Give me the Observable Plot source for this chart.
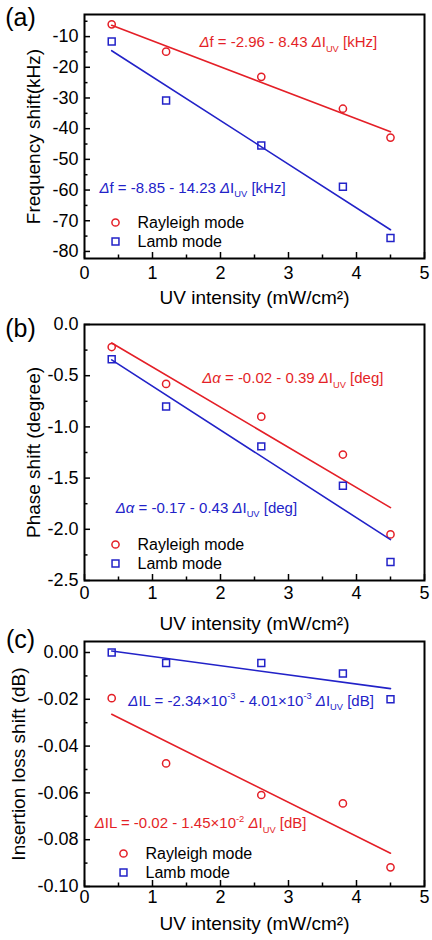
<!DOCTYPE html>
<html>
<head>
<meta charset="utf-8">
<script src="https://cdn.jsdelivr.net/npm/d3@7"></script>
<script src="https://cdn.jsdelivr.net/npm/@observablehq/plot@0.6"></script>
<style>
  body { margin: 0; background: #fff; }
  #chart { width: 432px; }
  #chart svg { display: block; }
</style>
</head>
<body>
<div id="chart"></div>
<script>
// UV intensity steps (mW/cm²)
const uv = [0.4, 1.2, 2.6, 3.8, 4.5];

// (a) frequency shift, kHz
const freqRayleigh = [-6.0, -14.9, -23.1, -33.5, -42.9];
const freqLamb = [-11.6, -30.8, -45.5, -58.9, -75.6];

// (b) phase shift, degree
const phaseRayleigh = [-0.22, -0.58, -0.90, -1.27, -2.05];
const phaseLamb = [-0.34, -0.80, -1.19, -1.575, -2.32];

// (c) insertion loss shift, dB
const ilRayleigh = [-0.0195, -0.0474, -0.0609, -0.0645, -0.0918];
const ilLamb = [0.0, -0.0045, -0.0045, -0.009, -0.020];

const modes = ["Rayleigh mode", "Lamb mode"];

// tick values
const xTicks = [0, 1, 2, 3, 4, 5];
const xMinorTicks = [0.5, 1.5, 2.5, 3.5, 4.5];
const freqTicks = [-10, -20, -30, -40, -50, -60, -70, -80];
const freqMinor = [-5, -15, -25, -35, -45, -55, -65, -75];
const phaseTicks = [0, -0.5, -1.0, -1.5, -2.0, -2.5];
const phaseMinor = [-0.25, -0.75, -1.25, -1.75, -2.25];
const ilTicks = [0, -0.02, -0.04, -0.06, -0.08, -0.10];
const ilMinor = [-0.01, -0.03, -0.05, -0.07, -0.09];

// fitted-line equations (Rayleigh, Lamb)
const freqFitText = ["Δf = -2.96 - 8.43 ΔI_{UV} [kHz]", "Δf = -8.85 - 14.23 ΔI_{UV} [kHz]"];
const phaseFitText = ["Δα = -0.02 - 0.39 ΔI_{UV} [deg]", "Δα = -0.17 - 0.43 ΔI_{UV} [deg]"];
const ilFitText = ["ΔIL = -0.02 - 1.45×10^{-2} ΔI_{UV} [dB]", "ΔIL = -2.34×10^{-3} - 4.01×10^{-3} ΔI_{UV} [dB]"];

const xLabel = "UV intensity (mW/cm²)";

// ---- styling ----
const W = 432, ML = 84, MR = 8;
const FONT = "'Liberation Sans', Arial, Helvetica, sans-serif";
const COLORS = ["#e41f27", "#2222c8"];
const SYMBOLS = ["circle", "square"];
const SVGNS = "http://www.w3.org/2000/svg";

// turn _{..} / ^{..} into sub/superscripts and italicise Greek letters
function enrich(textEl, fs) {
  const src = textEl.textContent;
  if (!/[_^]\{|[Δα]/.test(src)) return;
  textEl.textContent = "";
  let shift = 0;
  const add = (str, opts = {}) => {
    const t = document.createElementNS(SVGNS, "tspan");
    t.textContent = str;
    const target = opts.shift || 0;
    if (target !== shift) t.setAttribute("dy", target - shift);
    shift = target;
    if (opts.size) t.setAttribute("font-size", opts.size);
    if (opts.italic) t.setAttribute("font-style", "italic");
    textEl.appendChild(t);
  };
  const re = /_\{([^}]*)\}|\^\{([^}]*)\}|([Δα])|([^_^Δα]+)/g;
  let m;
  while ((m = re.exec(src))) {
    if (m[1] !== undefined) add(m[1], {shift: 0.3 * fs, size: 0.62 * fs});
    else if (m[2] !== undefined) add(m[2], {shift: -0.42 * fs, size: 0.62 * fs});
    else if (m[3]) add(m[3], {italic: true});
    else add(m[4]);
  }
}

function drawPanel(p) {
  const fw = W - ML - MR;
  const fh = p.height - p.marginTop - p.marginBottom;
  const lo = Math.min(...p.yDomain), hi = Math.max(...p.yDomain);
  const inDomain = (v) => v >= lo && v <= hi;
  const series = [p.rayleigh, p.lamb].map((ys, k) => uv.map((x, i) => ({x, y: ys[i], mode: modes[k]})));

  const marks = [
    // inward tick marks on the bottom and left axes
    Plot.tickX(xTicks, {x: (d) => d, insetTop: fh - 6, stroke: "black", strokeWidth: 1.5}),
    Plot.tickX(xMinorTicks, {x: (d) => d, insetTop: fh - 3.5, stroke: "black", strokeWidth: 1.5}),
    Plot.tickY(p.yTicks, {y: (d) => d, insetRight: fw - 6, stroke: "black", strokeWidth: 1.5}),
    Plot.tickY(p.yMinor.filter(inDomain), {y: (d) => d, insetRight: fw - 3.5, stroke: "black", strokeWidth: 1.5}),
    Plot.axisX({ticks: xTicks, tickSize: 0, tickPadding: p.xPad, fontSize: 18, tickFormat: (d) => String(d), label: null}),
    Plot.axisY({ticks: p.yTicks, tickSize: 0, tickPadding: 6, fontSize: 18, tickFormat: p.yFormat, label: null})
  ];

  series.forEach((rows, k) => {
    marks.push(
      Plot.linearRegressionY(rows, {x: "x", y: "y", stroke: COLORS[k], strokeWidth: 1.6, ci: 0}),
      Plot.dot(rows, {x: "x", y: "y", symbol: SYMBOLS[k], r: k ? 3.9 : 3.6, stroke: COLORS[k], strokeWidth: 1.5, fill: "none"})
    );
  });

  // fit equations
  p.fitText.forEach((t, k) => {
    marks.push(Plot.text([t], {x: p.notePos[k][0], y: p.notePos[k][1], text: (d) => d, fill: COLORS[k], textAnchor: "start", lineAnchor: "middle", fontSize: 15}));
  });

  // legend
  modes.forEach((m, k) => {
    const dy = p.legendDy + k * 19;
    marks.push(
      Plot.dot([m], {frameAnchor: "bottom-left", dx: p.legendDx, dy, symbol: SYMBOLS[k], r: k ? 3.9 : 3.6, stroke: COLORS[k], strokeWidth: 1.5, fill: "none"}),
      Plot.text([m], {frameAnchor: "bottom-left", dx: p.legendDx + 22, dy, textAnchor: "start", lineAnchor: "middle", fontSize: 16, fill: "black"})
    );
  });

  marks.push(
    Plot.frame({stroke: "black", strokeWidth: 2}),
    Plot.text([p.tag], {frameAnchor: "top-left", dx: -64, dy: p.tagDy, fontSize: 25, textAnchor: "middle", lineAnchor: "middle", fill: "black"}),
    Plot.text([p.yLabel], {frameAnchor: "left", dx: p.yLabelDx, rotate: -90, fontSize: 19, textAnchor: "middle", lineAnchor: "middle", fill: "black"}),
    Plot.text([xLabel], {frameAnchor: "bottom", dy: p.xLabelDy, fontSize: 19, textAnchor: "middle", lineAnchor: "middle", fill: "black"})
  );

  const svg = Plot.plot({
    width: W,
    height: p.height,
    marginLeft: ML,
    marginRight: MR,
    marginTop: p.marginTop,
    marginBottom: p.marginBottom,
    style: {fontFamily: FONT, background: "white", color: "black", overflow: "visible"},
    x: {domain: [0, 5]},
    y: {domain: p.yDomain},
    marks
  });
  svg.querySelectorAll("text").forEach((t) => enrich(t, 15));
  return svg;
}

const fmt = (n) => (d) => d.toFixed(n);

const panels = [
  {
    tag: "(a)", yLabel: "Frequency shift(kHz)",
    rayleigh: freqRayleigh, lamb: freqLamb,
    yDomain: [-82.3, -2.8], yTicks: freqTicks, yMinor: freqMinor, yFormat: fmt(0),
    fitText: freqFitText, notePos: [[1.69, -11.9], [0.22, -59.3]],
    height: 310, marginTop: 14, marginBottom: 52,
    xPad: 8, xLabelDy: 39, yLabelDx: -51, tagDy: 3,
    legendDx: 31, legendDy: -36
  },
  {
    tag: "(b)", yLabel: "Phase shift (degree)",
    rayleigh: phaseRayleigh, lamb: phaseLamb,
    yDomain: [-2.5, 0], yTicks: phaseTicks, yMinor: phaseMinor, yFormat: fmt(1),
    fitText: phaseFitText, notePos: [[1.73, -0.525], [0.46, -1.79]],
    height: 318, marginTop: 14, marginBottom: 48,
    xPad: 6, xLabelDy: 43, yLabelDx: -51, tagDy: 4,
    legendDx: 31, legendDy: -36
  },
  {
    tag: "(c)", yLabel: "Insertion loss shift (dB)",
    rayleigh: ilRayleigh, lamb: ilLamb,
    yDomain: [-0.1, 0.0047], yTicks: ilTicks, yMinor: ilMinor, yFormat: fmt(2),
    fitText: ilFitText, notePos: [[0.15, -0.073], [0.645, -0.0206]],
    height: 312, marginTop: 13, marginBottom: 54,
    xPad: 4, xLabelDy: 37, yLabelDx: -66, tagDy: -2,
    legendDx: 39, legendDy: -33
  }
];

const root = document.getElementById("chart");
panels.forEach((p) => root.appendChild(drawPanel(p)));
</script>
</body>
</html>
